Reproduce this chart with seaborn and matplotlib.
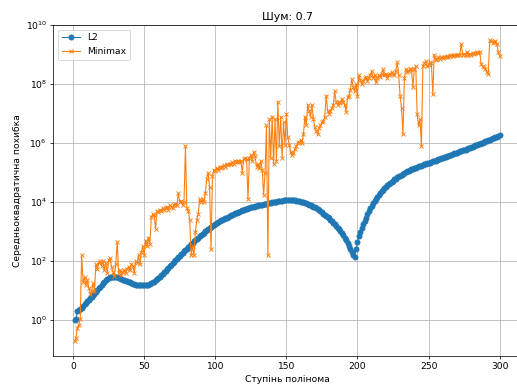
import numpy as np
import seaborn as sns
import matplotlib.pyplot as plt

degrees = list(range(1, 301))

# log10 of the error
l2_log = [
    0.0, 0.03, 0.3, 0.34, 0.38, 0.43, 0.48, 0.54, 0.6, 0.66,
    0.7, 0.74, 0.79, 0.84, 0.9, 0.96, 1.02, 1.08, 1.14, 1.2,
    1.25, 1.3, 1.35, 1.39, 1.42, 1.45, 1.46, 1.47, 1.47, 1.46,
    1.45, 1.44, 1.42, 1.4, 1.38, 1.36, 1.34, 1.32, 1.3, 1.28,
    1.26, 1.24, 1.23, 1.21, 1.2, 1.19, 1.19, 1.18, 1.18, 1.18,
    1.19, 1.2, 1.21, 1.23, 1.25, 1.28, 1.31, 1.35, 1.39, 1.43,
    1.48, 1.53, 1.58, 1.63, 1.68, 1.73, 1.78, 1.83, 1.88, 1.93,
    1.98, 2.03, 2.08, 2.13, 2.18, 2.23, 2.28, 2.33, 2.38, 2.43,
    2.48, 2.53, 2.58, 2.62, 2.67, 2.71, 2.76, 2.8, 2.85, 2.89,
    2.93, 2.97, 3.01, 3.05, 3.09, 3.13, 3.16, 3.2, 3.23, 3.26,
    3.29, 3.32, 3.35, 3.38, 3.41, 3.43, 3.46, 3.48, 3.51, 3.53,
    3.55, 3.58, 3.6, 3.62, 3.64, 3.66, 3.68, 3.7, 3.72, 3.74,
    3.76, 3.77, 3.79, 3.8, 3.82, 3.83, 3.85, 3.86, 3.87, 3.89,
    3.9, 3.91, 3.92, 3.93, 3.94, 3.95, 3.96, 3.97, 3.98, 3.99,
    4.0, 4.01, 4.02, 4.03, 4.04, 4.05, 4.05, 4.06, 4.06, 4.07,
    4.07, 4.07, 4.07, 4.07, 4.06, 4.06, 4.05, 4.04, 4.03, 4.02,
    4.01, 4.0, 3.98, 3.96, 3.94, 3.92, 3.9, 3.87, 3.85, 3.82,
    3.79, 3.76, 3.72, 3.69, 3.65, 3.61, 3.57, 3.53, 3.49, 3.45,
    3.4, 3.35, 3.3, 3.25, 3.2, 3.14, 3.08, 3.02, 2.95, 2.88,
    2.8, 2.72, 2.63, 2.53, 2.42, 2.3, 2.2, 2.15, 2.4, 2.65,
    2.85, 3.0, 3.12, 3.25, 3.37, 3.48, 3.59, 3.7, 3.79, 3.88,
    3.96, 4.04, 4.11, 4.18, 4.25, 4.31, 4.37, 4.42, 4.47, 4.52,
    4.57, 4.61, 4.65, 4.69, 4.73, 4.77, 4.8, 4.84, 4.87, 4.9,
    4.93, 4.96, 5.0, 5.03, 5.05, 5.07, 5.09, 5.11, 5.13, 5.15,
    5.17, 5.19, 5.21, 5.23, 5.24, 5.26, 5.28, 5.29, 5.31, 5.32,
    5.34, 5.36, 5.38, 5.39, 5.41, 5.43, 5.45, 5.47, 5.48, 5.5,
    5.52, 5.54, 5.56, 5.57, 5.59, 5.61, 5.63, 5.65, 5.66, 5.68,
    5.7, 5.72, 5.73, 5.75, 5.77, 5.78, 5.8, 5.82, 5.84, 5.86,
    5.88, 5.9, 5.92, 5.94, 5.96, 5.98, 6.0, 6.02, 6.04, 6.06,
    6.08, 6.1, 6.12, 6.14, 6.16, 6.18, 6.2, 6.22, 6.24, 6.26,
]

minimax_log = [
    -0.7, -0.6, -0.25, -0.15, 0.05, 2.2, 1.3, 1.45, 1.2, 1.35,
    1.1, 0.9, 1.0, 1.25, 1.0, 1.9, 1.75, 1.95, 2.0, 1.85,
    2.0, 1.7, 1.95, 1.6, 2.05, 2.1, 1.8, 1.65, 1.5, 1.9,
    2.65, 1.6, 1.7, 1.55, 1.65, 1.7, 1.6, 1.75, 1.8, 1.7,
    1.9, 1.85, 1.6, 2.0, 1.95, 2.2, 1.9, 2.3, 2.5, 2.2,
    2.7, 2.5, 2.8, 2.6, 3.5, 3.6, 3.55, 3.1, 3.7, 3.65,
    3.75, 3.7, 3.8, 3.75, 3.8, 3.85, 3.75, 3.9, 3.85, 3.8,
    3.9, 3.95, 3.9, 4.3, 4.0, 4.05, 3.9, 4.0, 5.9, 3.8,
    3.7, 3.4, 2.2, 2.5, 2.2, 3.0, 3.4, 3.6, 4.1, 4.0,
    4.1, 4.0, 4.3, 4.8, 5.0, 4.5, 2.4, 4.9, 5.1, 5.05,
    5.15, 5.1, 5.2, 5.15, 5.2, 5.25, 5.2, 5.3, 5.25, 5.3,
    5.3, 5.35, 5.3, 5.4, 5.35, 5.4, 5.35, 5.4, 5.0, 5.45,
    5.5, 5.45, 4.1, 5.5, 5.6, 5.4, 5.7, 5.55, 5.2, 5.3,
    5.15, 5.4, 5.1, 4.25, 5.0, 6.6, 2.2, 6.8, 5.5, 6.9,
    5.3, 6.8, 5.4, 7.4, 5.9, 6.9, 5.5, 6.7, 5.95, 7.0,
    6.2, 5.95, 5.7, 5.6, 5.65, 5.8, 5.9, 6.0, 6.05, 6.1,
    6.0, 6.3, 6.9, 6.6, 7.3, 7.1, 6.9, 7.3, 6.8, 6.55,
    6.4, 6.3, 6.5, 6.6, 6.7, 6.75, 6.9, 7.6, 7.1, 7.0,
    7.1, 7.2, 7.3, 7.75, 7.4, 7.3, 7.4, 7.35, 7.5, 7.4,
    7.3, 7.07, 7.55, 7.6, 7.8, 8.16, 7.9, 7.75, 8.0, 7.6,
    8.3, 8.15, 8.0, 8.1, 8.2, 8.25, 8.1, 8.2, 8.3, 8.43,
    8.2, 8.3, 8.06, 8.2, 8.3, 8.25, 8.35, 8.5, 8.3, 8.35,
    8.2, 8.3, 8.35, 8.4, 8.35, 8.3, 8.45, 8.74, 8.3, 7.6,
    7.2, 6.3, 8.2, 8.5, 8.4, 8.45, 8.5, 8.5, 7.9, 8.5,
    8.6, 6.97, 6.6, 6.8, 5.9, 8.6, 8.7, 8.77, 8.6, 8.65,
    8.74, 8.7, 7.65, 9.0, 8.8, 8.85, 8.9, 8.85, 8.9, 8.88,
    8.92, 8.9, 8.95, 8.92, 8.95, 8.97, 8.95, 8.98, 8.97, 9.0,
    8.98, 9.0, 9.35, 9.0, 9.02, 9.0, 9.08, 9.0, 9.02, 9.0,
    9.05, 9.03, 9.05, 9.07, 9.05, 9.1, 8.67, 8.6, 8.57, 8.5,
    8.4, 8.33, 9.49, 9.45, 9.4, 9.42, 9.45, 9.35, 9.1, 8.95,
]

l2 = 10 ** np.array(l2_log)
minimax = 10 ** np.array(minimax_log)

fig = plt.figure(figsize=(517 / 66, 387 / 66), dpi=66)
ax = fig.add_axes([0.1031, 0.0801, 0.9044, 0.8553])

sns.lineplot(x=degrees, y=l2, marker='o', color='tab:blue', label='L2',
             markersize=5.5, linewidth=1.2,
             markeredgecolor='tab:blue', markeredgewidth=1, ax=ax)
sns.lineplot(x=degrees, y=minimax, marker='x', color='tab:orange', label='Minimax',
             markersize=5, linewidth=1.2,
             markeredgecolor='tab:orange', markeredgewidth=1, ax=ax)

ax.set_yscale('log')
ax.set_ylim(10 ** -1.21, 1e10)
ax.set_title('Шум: 0.7')
ax.set_xlabel('Ступінь полінома')
ax.set_ylabel('Середньоквадратична похибка')
ax.grid(True)
ax.legend(loc='upper left')

plt.savefig('out.png', dpi=66)
